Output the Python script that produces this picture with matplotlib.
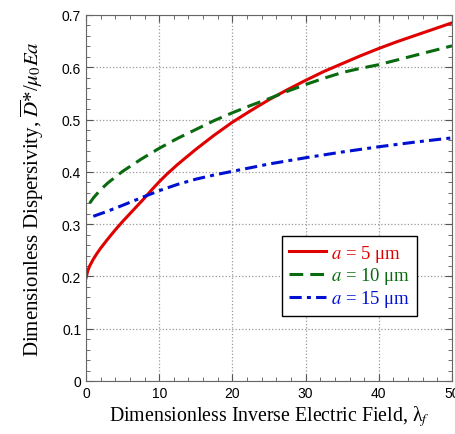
import numpy as np
import matplotlib
matplotlib.use("Agg")
import matplotlib.pyplot as plt
from matplotlib.ticker import MultipleLocator, FormatStrFormatter

plt.rcParams['mathtext.fontset'] = 'stix'

# values
x_red = [0, 0.25, 0.5, 1, 1.5, 2, 3, 4, 5, 6, 7, 8, 9, 10, 11, 12.5, 15, 17.5, 20, 22.5, 25, 27.5, 30, 32.5, 35, 37.5, 40, 42.5, 45, 47.5, 50]
y_red = [0.197, 0.211, 0.22, 0.233, 0.244, 0.254, 0.272, 0.289, 0.305, 0.32, 0.335, 0.35, 0.366, 0.381, 0.395, 0.414, 0.443, 0.47, 0.495, 0.517, 0.538, 0.557, 0.575, 0.592, 0.607, 0.622, 0.636, 0.649, 0.661, 0.673, 0.685]

x_green = [0.5, 1, 2, 3, 4, 5, 7.5, 10, 12.5, 15, 17.5, 20, 22.5, 25, 27.5, 30, 32.5, 35, 37.5, 40, 42.5, 45, 47.5, 50]
y_green = [0.34, 0.35, 0.366, 0.379, 0.39, 0.401, 0.424, 0.445, 0.464, 0.481, 0.498, 0.513, 0.527, 0.54, 0.554, 0.567, 0.579, 0.59, 0.598, 0.605, 0.614, 0.623, 0.632, 0.641]

x_blue = [1, 2, 3, 5, 8, 10, 12.5, 15, 17.5, 20, 25, 30, 35, 40, 45, 50]
y_blue = [0.315, 0.32, 0.325, 0.336, 0.353, 0.364, 0.376, 0.386, 0.394, 0.401, 0.415, 0.427, 0.438, 0.448, 0.457, 0.465]

labels = [r'$a$ = 5 μm', r'$a$ = 10 μm', r'$a$ = 15 μm']
colors = ['#e00000', '#0a6a10', '#0010d0']

fig = plt.figure(figsize=(4.56, 4.35), dpi=100)
ax = fig.add_axes([86/456, 1-382/435, 366/456, 366/435])

ax.plot(x_red, y_red, color=colors[0], lw=2.2, label=labels[0])
ax.plot(x_green, y_green, color=colors[1], lw=2.2, ls=(0, (4.5, 2.3)), label=labels[1])
ax.plot(x_blue, y_blue, color=colors[2], lw=2.2, ls=(0, (4, 1.7, 1.3, 1.7)), label=labels[2])

ax.set_xlim(0, 50)
ax.set_ylim(0, 0.7)
ax.xaxis.set_major_locator(MultipleLocator(10))
ax.xaxis.set_minor_locator(MultipleLocator(2))
ax.yaxis.set_major_locator(MultipleLocator(0.1))
ax.yaxis.set_minor_locator(MultipleLocator(0.02))
ax.yaxis.set_major_formatter(FormatStrFormatter('%g'))
ax.tick_params(which='both', direction='in', top=True, right=True, labelsize=10, colors='#555555')
ax.tick_params(which='major', length=5, labelcolor='black')
ax.tick_params(which='minor', length=3)
for lab in ax.get_xticklabels() + ax.get_yticklabels():
    lab.set_family('Liberation Sans')
for sp in ax.spines.values():
    sp.set_color('#666666')
ax.grid(True, which='major', ls=':', color='#999999', lw=0.9)

ax.set_xlabel(r'Dimensionless Inverse Electric Field, λ$_{f}$', family='Liberation Serif', fontsize=14.3, labelpad=2)
ax.set_ylabel(r'Dimensionless Dispersivity, $\overline{D}$*/$\mu_0 Ea$', family='Liberation Serif', fontsize=15, labelpad=11)

leg = ax.legend(loc='lower left', bbox_to_anchor=(0.536, 0.178), borderaxespad=0, fancybox=False, framealpha=1,
                edgecolor='black', handlelength=2.0, handletextpad=0.25,
                labelspacing=0.1, borderpad=0.35, prop={'family': 'Liberation Serif', 'size': 13.5})
leg.get_frame().set_linewidth(1.0)
for t, c in zip(leg.get_texts(), colors):
    t.set_color(c)

fig.savefig('out.png', dpi=100)
